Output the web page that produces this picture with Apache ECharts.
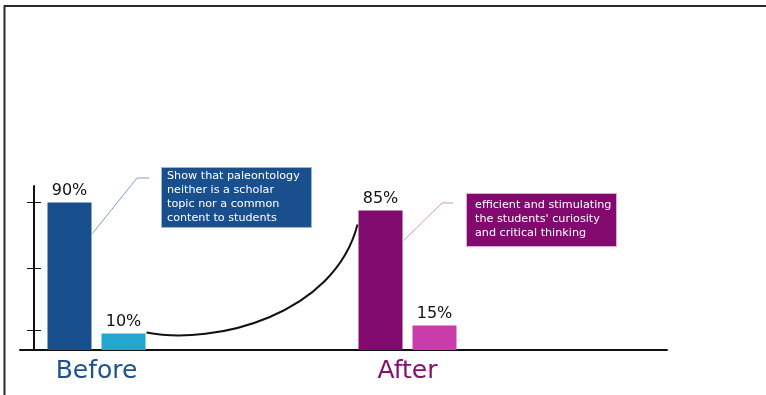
<!DOCTYPE html>
<html><head><meta charset="utf-8">
<script src="https://cdn.jsdelivr.net/npm/echarts@6/dist/echarts.min.js"></script>
<style>html,body{margin:0;padding:0;background:#fff}#c{width:766px;height:395px}</style>
</head><body><div id="c"></div>
<script>
// ---- data ----
const categories = ['Before', 'After'];
const mainValues = [90, 85];
const secondValues = [10, 15];
const yTicks = [12, 50, 90];
const noteBefore = ['Show that paleontology', 'neither is a scholar', 'topic nor a common', 'content to students'];
const noteAfter = ['efficient and stimulating', "the students' curiosity", 'and critical thinking'];

// ---- styles ----
const mainColors = ['#174e8c', '#800a6e'];
const secondColors = ['#23a7cf', '#c93ca9'];
const labelColors = ['#1b5290', '#85106f'];
const FONT = '"DejaVu Sans", sans-serif';
const BAR_W = 44, GAP = 10;

// axis layout: an empty spacer slot sits between the two groups
const axisCats = [categories[0], '', categories[1]];
const withSpacer = arr => [arr[0], null, arr[1]];
const colorSlots = [0, null, 1];

const chart = echarts.init(document.getElementById('c'), null, {renderer: 'canvas'});

const barLabel = {show: true, position: 'top', distance: 4, color: '#111', fontSize: 16, fontFamily: FONT, formatter: p => p.value + '%'};

const option = {
  animation: false,
  backgroundColor: '#fff',
  grid: [
    {left: 20, right: 99, top: 186, bottom: 45},
    {left: 18.75, right: 280.75, top: 186, bottom: 45}
  ],
  xAxis: [
    {gridIndex: 0, type: 'category', data: [''], axisLine: {show: true, lineStyle: {color: '#111', width: 2}}, axisTick: {show: false}, axisLabel: {show: false}},
    {gridIndex: 1, type: 'category', data: axisCats, axisLine: {show: false}, axisTick: {show: false},
      axisLabel: {margin: 9, interval: 0, formatter: (v, i) => v ? '{c' + i + '|' + v + '}' : '',
        rich: {
          c0: {color: labelColors[0], fontSize: 25, fontWeight: 500, fontFamily: FONT},
          c2: {color: labelColors[1], fontSize: 25, fontWeight: 500, fontFamily: FONT}
        }}}
  ],
  yAxis: [
    {gridIndex: 0, type: 'value', position: 'left', min: 0, max: 100, offset: -14,
      axisLine: {show: true, lineStyle: {color: '#111', width: 2}},
      axisTick: {show: true, customValues: yTicks, length: 7, lineStyle: {color: '#111', width: 1}},
      axisLabel: {show: false}, splitLine: {show: false}},
    {gridIndex: 0, type: 'value', position: 'left', min: 0, max: 100, offset: -14,
      axisLine: {show: false},
      axisTick: {show: true, inside: true, customValues: yTicks, length: 7, lineStyle: {color: '#111', width: 1}},
      axisLabel: {show: false}, splitLine: {show: false}},
    {gridIndex: 1, type: 'value', min: 0, max: 100, show: false}
  ],
  series: [
    {type: 'bar', xAxisIndex: 1, yAxisIndex: 2, barWidth: BAR_W, barGap: (GAP / BAR_W * 100) + '%',
      data: withSpacer(mainValues).map((v, i) => v == null ? null : ({value: v, itemStyle: {color: mainColors[colorSlots[i]]}})), label: barLabel},
    {type: 'bar', xAxisIndex: 1, yAxisIndex: 2, barWidth: BAR_W,
      data: withSpacer(secondValues).map((v, i) => v == null ? null : ({value: v, itemStyle: {color: secondColors[colorSlots[i]]}})), label: barLabel}
  ]
};
chart.setOption(option);

// ---- decorations anchored to the bars ----
function px(slot, val) { return chart.convertToPixel({gridIndex: 1}, [slot, val]); }
const pB10 = px(0, secondValues[0]);
const pB90 = px(0, mainValues[0]);
const pA85 = px(2, mainValues[1]);

const b10Right = pB10[0] + GAP / 2 + BAR_W, b10Top = pB10[1];
const b90Right = pB90[0] - GAP / 2, b90Top = pB90[1];
const a85Left = pA85[0] - GAP / 2 - BAR_W, a85Right = pA85[0] - GAP / 2, a85Top = pA85[1];

const s = [b10Right + 1, b10Top - 1];
const e = [a85Left - 1, a85Top + 14];

chart.setOption({
  graphic: [
    {type: 'polyline', shape: {points: [[4.5, 395], [4.5, 6], [766, 6]]}, style: {stroke: '#2a2a2a', lineWidth: 2, fill: null}},
    {type: 'bezierCurve', shape: {x1: s[0], y1: s[1], cpx1: s[0] + 69, cpy1: s[1] + 13, cpx2: e[0] - 23, cpy2: e[1] + 90, x2: e[0], y2: e[1]},
      style: {stroke: '#111', lineWidth: 2, fill: null}},
    {type: 'polyline', shape: {points: [[b90Right + 1, b90Top + 31], [137, 178], [149, 178]]}, style: {stroke: '#7f9fc8', lineWidth: 1, fill: null}},
    {type: 'rect', shape: {x: 161.5, y: 167.5, width: 150, height: 60}, style: {fill: '#1a4f8e', stroke: '#9bb5d6', lineWidth: 1}},
    {type: 'text', x: 167, y: 169, style: {text: noteBefore.join('\n'), fill: '#fff', fontSize: 11.2, fontFamily: FONT, lineHeight: 14}},
    {type: 'polyline', shape: {points: [[a85Right + 1, a85Top + 30], [442, 203], [453, 203]]}, style: {stroke: '#d690cb', lineWidth: 1, fill: null}},
    {type: 'rect', shape: {x: 466.5, y: 193.5, width: 150, height: 53}, style: {fill: '#820a6f', stroke: '#e3a6d9', lineWidth: 1}},
    {type: 'text', x: 475, y: 198, style: {text: noteAfter.join('\n'), fill: '#fff', fontSize: 11.2, fontFamily: FONT, lineHeight: 14}}
  ]
});
</script>
</body></html>
